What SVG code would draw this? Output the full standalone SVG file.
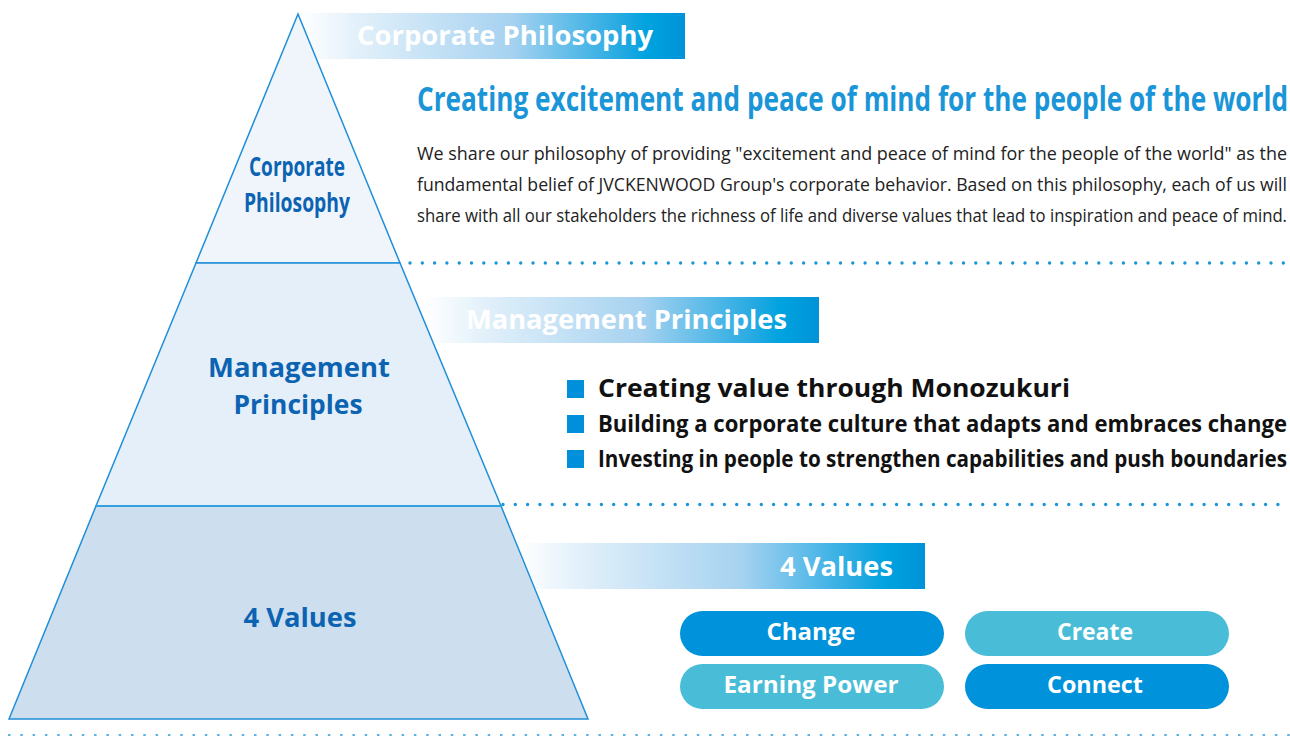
<svg xmlns="http://www.w3.org/2000/svg" width="1290" height="736" viewBox="0 0 1290 736">
  <defs>
    <linearGradient id="bannerGrad" x1="0" y1="0" x2="1" y2="0">
      <stop offset="0" stop-color="#ffffff"/>
      <stop offset="0.15" stop-color="#e2f0fa"/>
      <stop offset="0.55" stop-color="#a6d2f0"/>
      <stop offset="0.84" stop-color="#22a9e2"/>
      <stop offset="0.9" stop-color="#00a3df"/>
      <stop offset="1" stop-color="#0093d8"/>
    </linearGradient>
    <style>
      .banner { fill: url(#bannerGrad); }
      .bannerText { font-family: "Open Sans", "Liberation Sans", sans-serif; font-weight: 700; fill: #ffffff; font-size: 27px; }
      .tier { stroke: #1f8fd8; stroke-width: 1.5; }
      .tierLabel { font-family: "Open Sans", "Liberation Sans", sans-serif; font-weight: 700; fill: #0b63b2; text-anchor: middle; }
      .title { font-family: "Open Sans", "Liberation Sans", sans-serif; font-weight: 700; fill: #1a95d8; font-size: 34px; }
      .body { font-family: "Open Sans", "Liberation Sans", sans-serif; fill: #222222; font-size: 18px; }
      .bullet { fill: #0090db; }
      .bulletText { font-family: "Open Sans", "Liberation Sans", sans-serif; font-weight: 700; fill: #111111; }
      .pillDark { fill: #0092da; }
      .pillLight { fill: #49bdd7; }
      .pillText { font-family: "Open Sans", "Liberation Sans", sans-serif; font-weight: 700; fill: #ffffff; font-size: 24px; text-anchor: middle; }
      .dots { stroke: #1a95d8; stroke-width: 3.4; stroke-linecap: round; stroke-dasharray: 0 12.3; fill: none; }
      .dash { stroke: #5eb2e0; stroke-width: 1.8; stroke-dasharray: 2.5 9.8; fill: none; }
    </style>
  </defs>
  <rect width="1290" height="736" fill="#ffffff"/>

  <g id="banner-corporate-philosophy">
    <rect class="banner" x="300" y="13" width="385" height="46"/>
    <text class="bannerText" x="357" y="45" textLength="296" lengthAdjust="spacingAndGlyphs">Corporate Philosophy</text>
  </g>
  <g id="banner-management-principles">
    <rect class="banner" x="425" y="297" width="394" height="46"/>
    <text class="bannerText" x="466" y="329" textLength="321" lengthAdjust="spacingAndGlyphs">Management Principles</text>
  </g>
  <g id="banner-4-values">
    <rect class="banner" x="518" y="543" width="407" height="46"/>
    <text class="bannerText" x="780" y="576" textLength="113" lengthAdjust="spacingAndGlyphs">4 Values</text>
  </g>

  <g id="pyramid">
    <g id="tier-corporate-philosophy">
      <polygon class="tier" points="298,14 400,263 196,263" fill="#eff5fb"/>
      <text class="tierLabel" font-size="27" x="297" y="176" textLength="96" lengthAdjust="spacingAndGlyphs">Corporate</text>
      <text class="tierLabel" font-size="27" x="297" y="212" textLength="106" lengthAdjust="spacingAndGlyphs">Philosophy</text>
    </g>
    <g id="tier-management-principles">
      <polygon class="tier" points="196,263 400,263 501,506 96,506" fill="#e5eff9"/>
      <text class="tierLabel" font-size="27" x="299" y="377" textLength="182" lengthAdjust="spacingAndGlyphs">Management</text>
      <text class="tierLabel" font-size="27" x="298" y="414" textLength="129" lengthAdjust="spacingAndGlyphs">Principles</text>
    </g>
    <g id="tier-4-values">
      <polygon class="tier" points="96,506 501,506 588,719 9,719" fill="#cddeee"/>
      <line x1="96" y1="506" x2="501" y2="506" stroke="#34a0de" stroke-width="2"/>
      <text class="tierLabel" font-size="27" x="300" y="627" textLength="113" lengthAdjust="spacingAndGlyphs">4 Values</text>
    </g>
  </g>

  <g id="philosophy-text">
    <text class="title" x="417" y="111" textLength="871" lengthAdjust="spacingAndGlyphs">Creating excitement and peace of mind for the people of the world</text>
    <text class="body" x="417" y="160" textLength="870" lengthAdjust="spacingAndGlyphs">We share our philosophy of providing "excitement and peace of mind for the people of the world" as the</text>
    <text class="body" x="417" y="191" textLength="870" lengthAdjust="spacingAndGlyphs">fundamental belief of JVCKENWOOD Group's corporate behavior. Based on this philosophy, each of us will</text>
    <text class="body" x="417" y="222" textLength="870" lengthAdjust="spacingAndGlyphs">share with all our stakeholders the richness of life and diverse values that lead to inspiration and peace of mind.</text>
  </g>

  <g id="principles-list">
    <rect class="bullet" x="567" y="380" width="17" height="18"/>
    <text class="bulletText" font-size="25" x="598" y="397" textLength="472" lengthAdjust="spacingAndGlyphs">Creating value through Monozukuri</text>
    <rect class="bullet" x="567" y="415" width="17" height="18"/>
    <text class="bulletText" font-size="23" x="598" y="432" textLength="689" lengthAdjust="spacingAndGlyphs">Building a corporate culture that adapts and embraces change</text>
    <rect class="bullet" x="567" y="450" width="17" height="18"/>
    <text class="bulletText" font-size="23" x="598" y="467" textLength="689" lengthAdjust="spacingAndGlyphs">Investing in people to strengthen capabilities and push boundaries</text>
  </g>

  <g id="value-change">
    <rect class="pillDark" x="680" y="611" width="264" height="45" rx="22.5"/>
    <text class="pillText" x="811" y="640" textLength="89" lengthAdjust="spacingAndGlyphs">Change</text>
  </g>
  <g id="value-create">
    <rect class="pillLight" x="965" y="611" width="264" height="45" rx="22.5"/>
    <text class="pillText" x="1095" y="640" textLength="76" lengthAdjust="spacingAndGlyphs">Create</text>
  </g>
  <g id="value-earning-power">
    <rect class="pillLight" x="680" y="664" width="264" height="45" rx="22.5"/>
    <text class="pillText" x="811" y="693" textLength="175" lengthAdjust="spacingAndGlyphs">Earning Power</text>
  </g>
  <g id="value-connect">
    <rect class="pillDark" x="965" y="664" width="264" height="45" rx="22.5"/>
    <text class="pillText" x="1095" y="693" textLength="96" lengthAdjust="spacingAndGlyphs">Connect</text>
  </g>

  <g id="connectors">
    <line class="dots" x1="410" y1="263" x2="1290" y2="263"/>
    <line class="dots" x1="503" y1="504.5" x2="1290" y2="504.5"/>
    <line class="dash" x1="8" y1="735" x2="1290" y2="735"/>
  </g>
</svg>
